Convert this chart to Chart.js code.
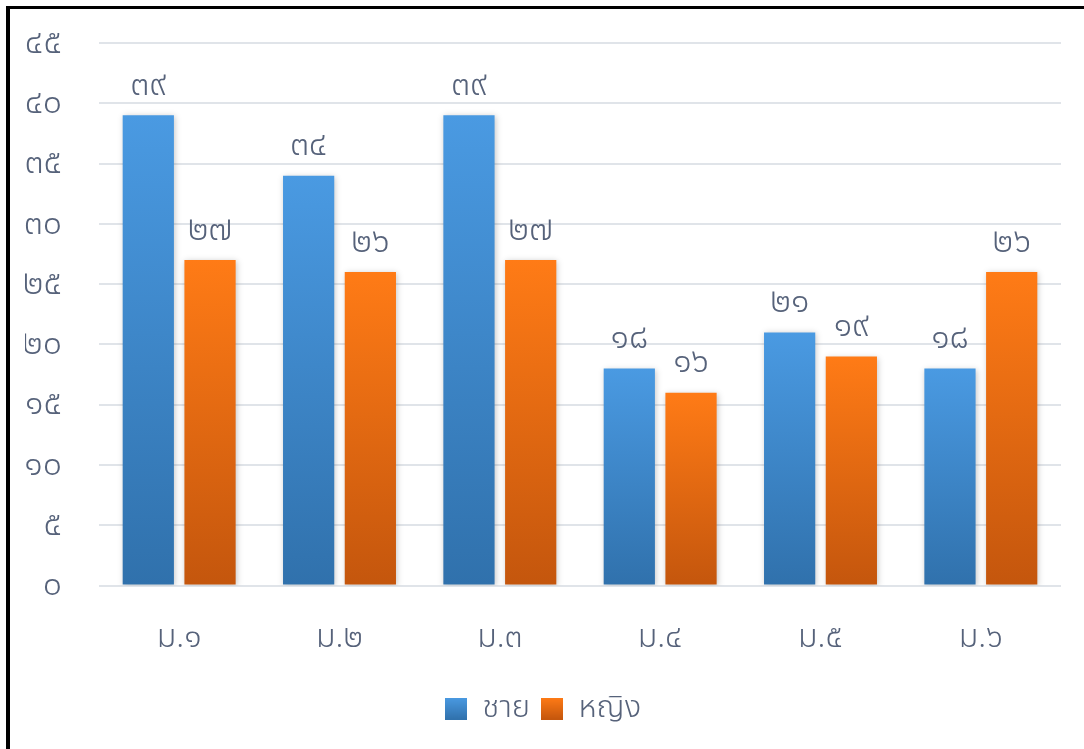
<!DOCTYPE html>
<html lang="th">
<head>
<meta charset="utf-8">
<title>ชาย หญิง</title>
<script src="https://cdn.jsdelivr.net/npm/chart.js@4.4.1/dist/chart.umd.min.js"></script>
<style>
  html, body { margin: 0; padding: 0; background: #fff; }
  #wrap { position: relative; width: 1084px; height: 749px; }
  #frame {
    position: absolute; left: 6px; top: 6px; right: 0; bottom: 0;
    border-left: 4px solid #000; border-top: 3px solid #000;
    pointer-events: none;
  }
</style>
</head>
<body>
<div id="wrap">
  <canvas id="grafico" width="1084" height="749"></canvas>
  <div id="frame"></div>
</div>
<script>
// datos
const categorias = ['ม.๑', 'ม.๒', 'ม.๓', 'ม.๔', 'ม.๕', 'ม.๖'];
const chai = [39, 34, 39, 18, 21, 18];
const ying = [27, 26, 27, 16, 19, 26];
const nombresSeries = ['ชาย', 'หญิง'];
const yMax = 45;
const yPaso = 5;

const colorTexto = '#56627a';
const fuente = '"Noto Sans", "Noto Sans Thai", Tahoma, sans-serif';

// numeros arabigos -> tailandeses
function thaiNum(n) {
    const d = '๐๑๒๓๔๕๖๗๘๙';
    return String(n).replace(/[0-9]/g, c => d[+c]);
}

// colores degradados (arriba, abajo)
const degradados = [
    ['#4a9ae2', '#3071ac'],
    ['#ff7b16', '#c4560d']
];

function colorBarra(idx) {
    return function(context) {
        const chart = context.chart;
        const y = chart.scales.y;
        if (!y || typeof context.raw !== 'number') return degradados[idx][0];
        const top = y.getPixelForValue(context.raw);
        const bottom = y.getPixelForValue(0);
        if (!isFinite(top) || !isFinite(bottom) || top === bottom) return degradados[idx][0];
        const g = chart.ctx.createLinearGradient(0, top, 0, bottom);
        g.addColorStop(0, degradados[idx][0]);
        g.addColorStop(1, degradados[idx][1]);
        return g;
    };
}

// cuadritos de la leyenda con degradado
function cuadroLeyenda(idx) {
    const c = document.createElement('canvas');
    c.width = 22; c.height = 22;
    const cx = c.getContext('2d');
    const g = cx.createLinearGradient(0, 0, 0, 22);
    g.addColorStop(0, degradados[idx][0]);
    g.addColorStop(1, degradados[idx][1]);
    cx.fillStyle = g;
    cx.fillRect(0, 0, 22, 22);
    return c;
}

// sombra suave de las barras
const sombraBarras = {
    id: 'sombraBarras',
    beforeDatasetsDraw(chart) {
        const ctx = chart.ctx;
        ctx.save();
        ctx.shadowColor = 'rgba(0,0,0,0.22)';
        ctx.shadowBlur = 6;
        ctx.shadowOffsetX = 1;
        ctx.shadowOffsetY = 1;
    },
    afterDatasetsDraw(chart) {
        chart.ctx.restore();
    }
};

// etiquetas de valores encima de las barras
const etiquetasValores = {
    id: 'etiquetasValores',
    afterDatasetsDraw(chart) {
        const ctx = chart.ctx;
        ctx.save();
        ctx.font = '300 34px ' + fuente;
        ctx.fillStyle = colorTexto;
        ctx.textAlign = 'center';
        ctx.textBaseline = 'middle';
        chart.data.datasets.forEach((ds, i) => {
            const meta = chart.getDatasetMeta(i);
            meta.data.forEach((bar, j) => {
                ctx.fillText(thaiNum(ds.data[j]), bar.x, bar.y - 30);
            });
        });
        ctx.restore();
    }
};

document.addEventListener('DOMContentLoaded', function() {
    const ctx = document.getElementById('grafico').getContext('2d');
    new Chart(ctx, {
        type: 'bar',
        data: {
            labels: categorias,
            datasets: [{
                label: nombresSeries[0],
                data: chai,
                backgroundColor: colorBarra(0),
                pointStyle: cuadroLeyenda(0),
                categoryPercentage: 0.77,
                barPercentage: 0.83
            }, {
                label: nombresSeries[1],
                data: ying,
                backgroundColor: colorBarra(1),
                pointStyle: cuadroLeyenda(1),
                categoryPercentage: 0.77,
                barPercentage: 0.83
            }]
        },
        options: {
            responsive: false,
            animation: false,
            layout: {
                padding: { top: 43, left: 25, right: 23, bottom: 15 }
            },
            plugins: {
                legend: {
                    position: 'bottom',
                    labels: {
                        usePointStyle: true,
                        color: colorTexto,
                        font: { family: fuente, size: 31, weight: '300' },
                        padding: 11,
                        boxWidth: 22,
                        boxHeight: 22
                    }
                },
                tooltip: { enabled: false }
            },
            scales: {
                x: {
                    grid: { display: false },
                    border: { display: false },
                    ticks: {
                        color: colorTexto,
                        font: { family: fuente, size: 32, weight: '300' },
                        padding: 25
                    }
                },
                y: {
                    min: 0,
                    max: yMax,
                    border: { display: false },
                    grid: { color: '#e0e4e9', lineWidth: 2, drawTicks: false },
                    afterFit: scale => {
                        scale.width = 74;
                        scale.paddingTop = 0;
                        scale.paddingBottom = 0;
                    },
                    ticks: {
                        stepSize: yPaso,
                        color: colorTexto,
                        font: { family: fuente, size: 34, weight: '300' },
                        padding: 37,
                        callback: v => thaiNum(v)
                    }
                }
            }
        },
        plugins: [sombraBarras, etiquetasValores]
    });
});
</script>
</body>
</html>
